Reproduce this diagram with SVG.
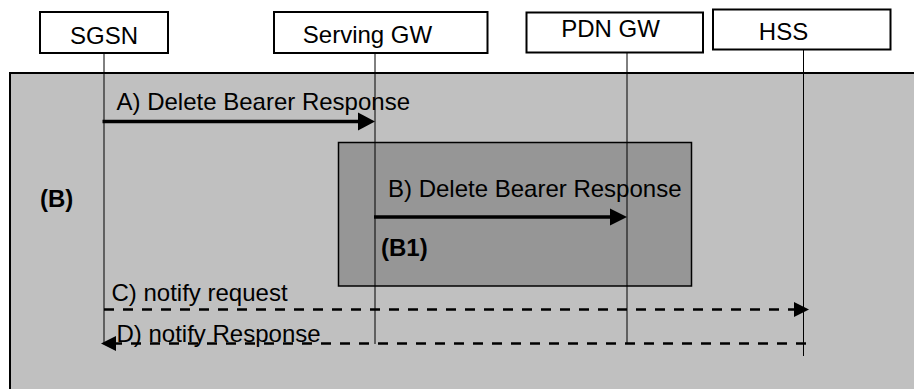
<svg xmlns="http://www.w3.org/2000/svg" width="914" height="389" viewBox="0 0 914 389">
  <style>
    .box { fill: #ffffff; stroke: #000000; stroke-width: 2; }
    .lbl { font-family: "Liberation Sans", Arial, sans-serif; font-size: 24px; fill: #000000; }
    .bold { font-weight: bold; }
    .life { stroke: #000000; stroke-width: 1; fill: none; }
    .solid { stroke: #000000; stroke-width: 3.5; fill: none; }
    .dash { stroke: #000000; stroke-width: 2.5; fill: none; stroke-dasharray: 10 9; }
    .head { fill: #000000; stroke: none; }
  </style>

  <g id="frame-B">
    <rect x="10" y="73" width="920" height="330" fill="#c0c0c0" stroke="#000000" stroke-width="2"/>
    <text class="lbl bold" x="40" y="207">(B)</text>
  </g>

  <g id="frame-B1">
    <rect x="338.5" y="142.5" width="353" height="143.5" fill="#969696" stroke="#000000" stroke-width="1.5"/>
    <text class="lbl bold" x="381" y="256">(B1)</text>
  </g>

  <g id="lifelines">
    <line class="life" x1="104" y1="53" x2="104" y2="344"/>
    <line class="life" x1="375" y1="53" x2="375" y2="344"/>
    <line class="life" x1="627" y1="53" x2="627" y2="344"/>
    <line class="life" x1="803.5" y1="49" x2="803.5" y2="356" stroke-width="2"/>
  </g>

  <g id="node-SGSN">
    <rect class="box" x="40" y="12" width="128" height="41"/>
    <text class="lbl" x="104" y="44" text-anchor="middle">SGSN</text>
  </g>
  <g id="node-ServingGW">
    <rect class="box" x="274" y="12" width="213.5" height="41"/>
    <text class="lbl" x="367.5" y="43" text-anchor="middle">Serving GW</text>
  </g>
  <g id="node-PDNGW">
    <rect class="box" x="526.5" y="12.5" width="176.5" height="40"/>
    <text class="lbl" x="610.5" y="37" text-anchor="middle">PDN GW</text>
  </g>
  <g id="node-HSS">
    <rect class="box" x="713" y="9.5" width="177.5" height="40"/>
    <text class="lbl" x="783.5" y="40" text-anchor="middle">HSS</text>
  </g>

  <g id="connectors">
    <!-- A -->
    <line class="solid" x1="102.5" y1="121.5" x2="360" y2="121.5"/>
    <polygon class="head" points="358,112.5 375,121.5 358,130.5"/>
    <text class="lbl" x="116.5" y="110">A) Delete Bearer Response</text>
    <!-- B -->
    <line class="solid" x1="374" y1="217" x2="612" y2="217"/>
    <polygon class="head" points="610,208.5 627,217 610,225.5"/>
    <text class="lbl" x="388" y="197">B) Delete Bearer Response</text>
    <!-- C -->
    <line class="dash" x1="104" y1="309.5" x2="795" y2="309.5"/>
    <polygon class="head" points="794,302 809,309.5 794,317"/>
    <text class="lbl" x="111.5" y="301">C) notify request</text>
    <!-- D -->
    <line class="dash" x1="806" y1="343.5" x2="114" y2="343.5"/>
    <polygon class="head" points="116,336 101,343.5 116,351"/>
    <text class="lbl" x="116.5" y="342">D) notify Response</text>
  </g>
</svg>
